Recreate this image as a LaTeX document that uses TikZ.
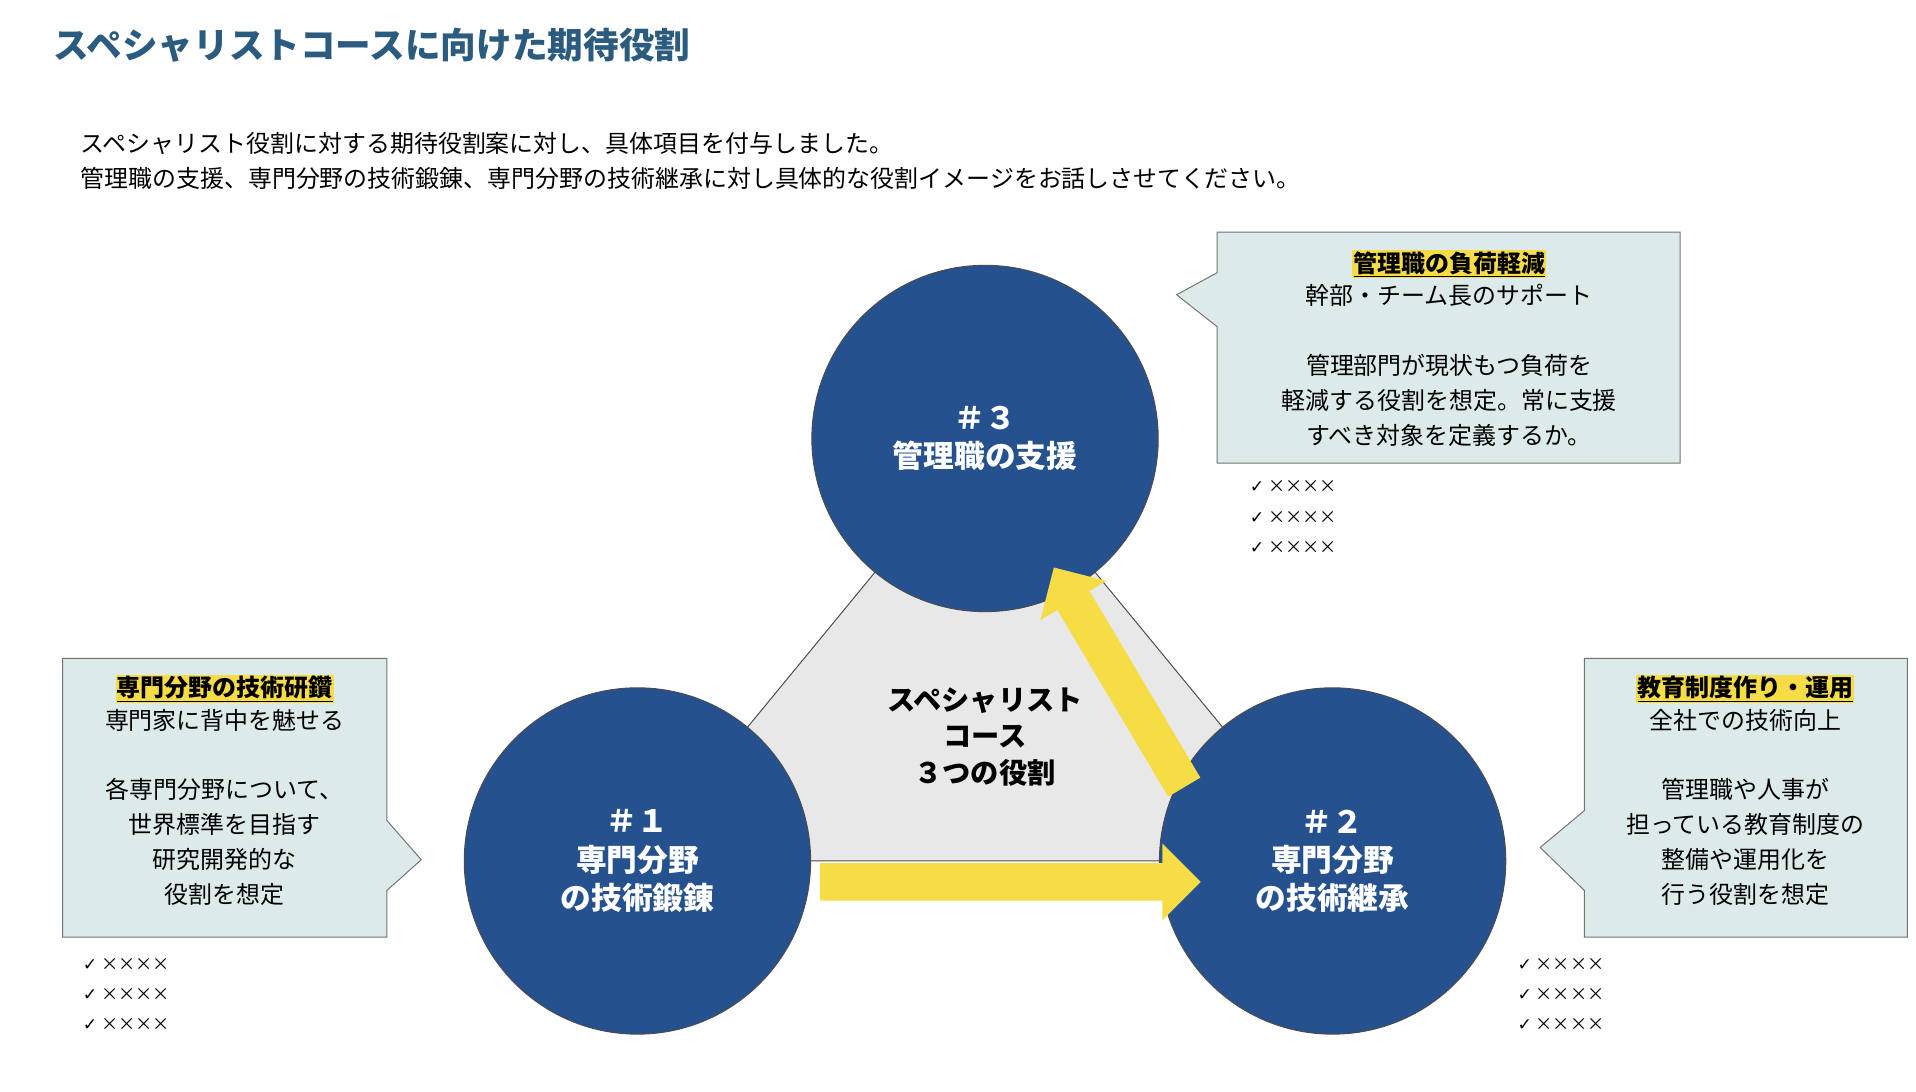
\documentclass[tikz,border=0pt]{standalone}
\usepackage{fontspec}
\setmainfont{Noto Sans CJK JP}
\newfontfamily\sym{DejaVu Sans}
\usetikzlibrary{shapes.arrows}
\definecolor{titlec}{HTML}{2B5B7E}
\definecolor{circ}{HTML}{25518F}
\definecolor{boxc}{HTML}{DDEAEA}
\definecolor{hl}{HTML}{F6DC45}
\definecolor{arr}{HTML}{F6DC45}
\tikzset{
 role/.style={circle,fill=circ,draw=black!70,line width=0.8pt,minimum size=282pt,text=white,font=\fontsize{25}{31}\selectfont\bfseries,align=center},
 callout/.style={fill=boxc,draw=black!55,line width=0.8pt},
 btext/.style={align=center,font=\fontsize{19.5}{28.5}\selectfont},
 hd/.style={fill=hl,inner sep=1pt,font=\fontsize{19.5}{24}\selectfont\bfseries},
 chk/.style={anchor=west,align=left,font=\fontsize{14}{24.5}\selectfont},
 yarrow/.style={single arrow,fill=arr,inner sep=0pt,minimum width=62pt,single arrow head extend=16pt,single arrow head indent=0pt,text height=30pt}
}
\begin{document}
\begin{tikzpicture}[x=1pt,y=-1pt]
\useasboundingbox (0,0) rectangle (1560,889);
\node[anchor=west,text=titlec,font=\fontsize{29}{34}\selectfont\bfseries] (title) at (40,37) {スペシャリストコースに向けた期待役割};
\node[anchor=west,align=left,font=\fontsize{19.5}{29}\selectfont] (desc) at (62,131) {スペシャリスト役割に対する期待役割案に対し、具体項目を付与しました。\\管理職の支援、専門分野の技術鍛錬、専門分野の技術継承に対し具体的な役割イメージをお話しさせてください。};
% triangle
\coordinate (t3) at (802,357);
\coordinate (t1) at (519,701);
\coordinate (t2) at (1085,701);
\filldraw[fill=black!9,draw=black!70,line width=0.8pt] (t3)--(t1)--(t2)--cycle;
\node[role] (c3) at (t3) {＃３\\管理職の支援};
\node[role] (c1) at (t1) {＃１\\専門分野\\の技術鍛錬};
\node[role] (c2) at (t2) {＃２\\専門分野\\の技術継承};
\node[align=center,font=\fontsize{23}{30}\selectfont\bfseries] (center) at (802,600) {スペシャリスト\\コース\\３つの役割};
% arrows
\node[yarrow,minimum height=310pt] (ah) at (815,718) {};
\node[yarrow,minimum height=208pt,rotate=120.7] (ad) at (915,558) {};
% callouts
\draw[callout] (991,189)--(1368,189)--(1368,377)--(991,377)--(991,266)--(958,240)--(991,222)--cycle;
\node[hd] (h3) at (1180,215) {\underline{管理職の負荷軽減}};
\node[btext,anchor=north] (b3) at (1180,228) {幹部・チーム長のサポート\\[28pt]管理部門が現状もつ負荷を\\軽減する役割を想定。常に支援\\すべき対象を定義するか。};
\draw[callout] (51,536)--(315,536)--(315,668)--(343,700)--(315,725)--(315,763)--(51,763)--cycle;
\node[hd] (h1) at (183,561) {\underline{専門分野の技術研鑽}};
\node[btext,anchor=north] (b1) at (183,574) {専門家に背中を魅せる\\[28pt]各専門分野について、\\世界標準を目指す\\研究開発的な\\役割を想定};
\draw[callout] (1290,536)--(1553,536)--(1553,763)--(1290,763)--(1290,725)--(1254,690)--(1290,660)--cycle;
\node[hd] (h2) at (1421,561) {\underline{教育制度作り・運用}};
\node[btext,anchor=north] (b2) at (1421,574) {全社での技術向上\\[28pt]管理職や人事が\\担っている教育制度の\\整備や運用化を\\行う役割を想定};
% checklists
\node[chk] (k3) at (1014,421) {{\sym ✓} ××××\\{\sym ✓} ××××\\{\sym ✓} ××××};
\node[chk] (k1) at (64,810) {{\sym ✓} ××××\\{\sym ✓} ××××\\{\sym ✓} ××××};
\node[chk] (k2) at (1232,810) {{\sym ✓} ××××\\{\sym ✓} ××××\\{\sym ✓} ××××};
\end{tikzpicture}
\end{document}
